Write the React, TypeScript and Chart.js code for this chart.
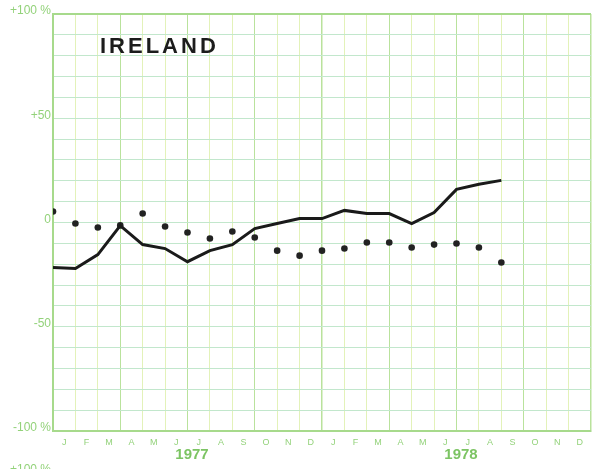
import React, { useEffect, useRef } from "react";
import { Chart, registerables } from "chart.js";

Chart.register(...registerables);

const monthLabels = ["J", "F", "M", "A", "M", "J", "J", "A", "S", "O", "N", "D", "J", "F", "M", "A", "M", "J", "J", "A", "S", "O", "N", "D"];
const yearLabels = ["1977", "1978"];
const yearPositions = [6.2, 18.2];
const solidValues = [-21.6, -22.1, -15.4, -1.5, -10.6, -12.5, -18.8, -13.5, -10.6, -2.9, -0.5, 1.9, 1.9, 5.8, 4.3, 4.3, -0.5, 4.8, 15.9, 18.3, 20.2];
const dotValues = [5.3, -0.5, -2.4, -1.4, 4.3, -1.9, -4.8, -7.7, -4.3, -7.2, -13.5, -15.9, -13.5, -12.5, -9.6, -9.6, -12, -10.6, -10.1, -12, -19.2];
const yTickValues = [100, 50, 0, -50, -100];
const yTickTexts = ["+100 %", "+50", "0", "-50", "-100 %"];
const chartTitle = "IRELAND";

const LABEL_GREEN = "#93d27a";
const YEAR_GREEN = "#7cc463";
const H_GRID = "#c2e7cc";
const V_MONTH = "#e3f2b9";
const V_QUARTER = "#b9e29c";
const BORDER = "#a7da8c";

const overlayPlugin = {
  id: "overlay",
  afterDraw(chart: any) {
    const ctx = chart.ctx;
    const xs = chart.scales.x;
    ctx.save();
    // title
    ctx.fillStyle = "#1c1c1c";
    ctx.font = "bold 22px 'Liberation Sans', Arial, sans-serif";
    (ctx as any).letterSpacing = "3px";
    ctx.textBaseline = "alphabetic";
    ctx.textAlign = "left";
    ctx.fillText(chartTitle, 100, 53);
    (ctx as any).letterSpacing = "0px";
    // years
    ctx.fillStyle = YEAR_GREEN;
    ctx.font = "bold 15px 'Liberation Sans', Arial, sans-serif";
    ctx.textAlign = "center";
    ctx.textBaseline = "middle";
    yearLabels.forEach((y, i) => {
      ctx.fillText(y, xs.getPixelForValue(yearPositions[i]), 455);
    });
    // next panel's top label, cut off
    ctx.fillStyle = LABEL_GREEN;
    ctx.font = "12px 'Liberation Sans', Arial, sans-serif";
    ctx.textAlign = "right";
    ctx.fillText(yTickTexts[0], 51, 470);
    ctx.restore();
  },
};

const noPad = (s: any) => {
  s.paddingLeft = 0;
  s.paddingRight = 0;
  s.paddingTop = 0;
  s.paddingBottom = 0;
};

export default function App() {
  const ref = useRef<HTMLCanvasElement | null>(null);
  useEffect(() => {
    if (!ref.current) return;
    const chart = new Chart(ref.current, {
      type: "line",
      data: {
        datasets: [
          {
            label: "solid",
            data: solidValues.map((v, i) => ({ x: i, y: v })),
            borderColor: "#1a1a1a",
            borderWidth: 3,
            pointRadius: 0,
            tension: 0,
            fill: false,
          },
          {
            label: "dots",
            data: dotValues.map((v, i) => ({ x: i, y: v })),
            showLine: false,
            pointRadius: 3.3,
            pointBackgroundColor: "#222",
            pointBorderColor: "#222",
            pointBorderWidth: 0,
          },
        ],
      },
      plugins: [overlayPlugin],
      options: {
        responsive: false,
        animation: false,
        layout: { padding: { top: 14, right: 0, left: 0, bottom: 0 } },
        plugins: { legend: { display: false }, tooltip: { enabled: false }, title: { display: false } },
        scales: {
          x: {
            type: "linear",
            min: 0,
            max: 24,
            afterFit: (s: any) => {
              s.height = 38;
              noPad(s);
            },
            border: { color: BORDER, width: 2 },
            grid: {
              drawTicks: false,
              color: (c: any) => (c.tick && c.tick.value % 3 === 0 ? V_QUARTER : V_MONTH),
              lineWidth: (c: any) => (c.tick && c.tick.value % 12 === 0 ? 1.5 : 1),
            },
            ticks: {
              stepSize: 1,
              autoSkip: false,
              maxRotation: 0,
              padding: 6,
              labelOffset: 11.2,
              color: LABEL_GREEN,
              font: { size: 9, family: "'Liberation Sans', Arial, sans-serif" },
              callback: (v: any) => monthLabels[v] ?? "",
            },
          },
          y: {
            min: -100,
            max: 100,
            afterFit: (s: any) => {
              s.width = 53;
              noPad(s);
            },
            border: { color: BORDER, width: 2 },
            grid: {
              drawTicks: false,
              color: (c: any) => (c.tick && c.tick.value === 100 ? BORDER : H_GRID),
              lineWidth: (c: any) => (c.tick && c.tick.value === 100 ? 2 : 1),
            },
            ticks: {
              stepSize: 10,
              autoSkip: false,
              padding: 2,
              labelOffset: -3,
              color: LABEL_GREEN,
              font: { size: 12, family: "'Liberation Sans', Arial, sans-serif" },
              callback: (v: any) => {
                const k = yTickValues.indexOf(v);
                return k >= 0 ? yTickTexts[k] : "";
              },
            },
          },
        },
      },
    });
    return () => chart.destroy();
  }, []);
  return (
    <div style={{ position: "fixed", left: 0, top: 0, width: 593, height: 469, overflow: "hidden", background: "#fff" }}>
      <canvas ref={ref} width={595} height={469} style={{ display: "block" }} />
    </div>
  );
}
